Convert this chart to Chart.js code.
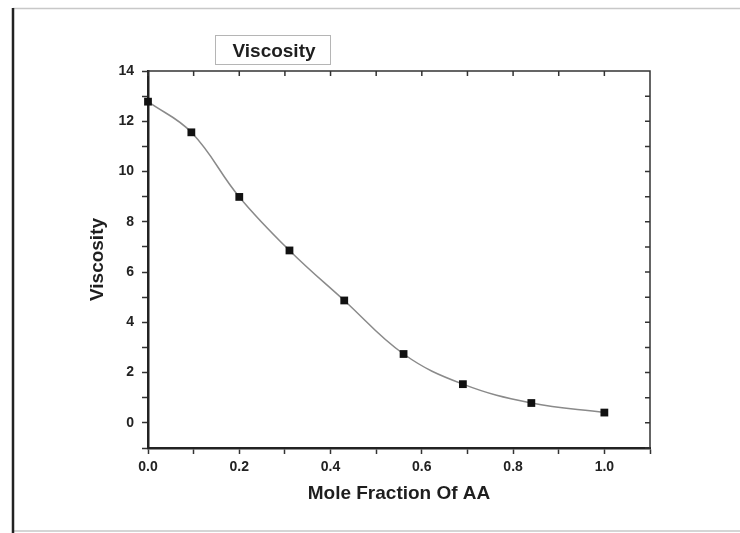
<!DOCTYPE html>
<html>
<head>
<meta charset="utf-8">
<script src="https://cdn.jsdelivr.net/npm/chart.js@4"></script>
<style>
  body { margin: 0; background: #fff; }
  canvas { display: block; }
</style>
</head>
<body>
<canvas id="viscosityChart" width="740" height="533"></canvas>
<script>
// measured viscosity against mole fraction of AA
var moleFraction = [0, 0.095, 0.2, 0.31, 0.43, 0.56, 0.69, 0.84, 1.0];
var viscosity = [12.78, 11.56, 8.99, 6.86, 4.87, 2.74, 1.54, 0.79, 0.41];

// tick positions (major + minor), labels only on the major ones
var xTickValues = [0, 0.1, 0.2, 0.3, 0.4, 0.5, 0.6, 0.7, 0.8, 0.9, 1.0, 1.1];
var yTickValues = [-1, 0, 1, 2, 3, 4, 5, 6, 7, 8, 9, 10, 11, 12, 13, 14];

var points = moleFraction.map(function (x, i) { return { x: x, y: viscosity[i] }; });

// page frame, boxed title and the mirrored top/right axes with inward ticks
var framePlugin = {
    id: 'frame',
    beforeDraw: function (chart) {
        var c = chart.ctx;
        c.save();
        c.fillStyle = '#fff';
        c.fillRect(0, 0, chart.width, chart.height);
        c.strokeStyle = '#c8c8c8';
        c.lineWidth = 1.5;
        c.beginPath();
        c.moveTo(13, 8.5); c.lineTo(740, 8.5);
        c.moveTo(13, 531); c.lineTo(740, 531);
        c.stroke();
        c.strokeStyle = '#222';
        c.lineWidth = 2.5;
        c.beginPath();
        c.moveTo(13, 8); c.lineTo(13, 533);
        c.stroke();
        c.restore();
    },
    afterDraw: function (chart) {
        var c = chart.ctx;
        var a = chart.chartArea;
        var xs = chart.scales.x, ys = chart.scales.y;
        c.save();
        c.strokeStyle = '#333';
        c.lineWidth = 1.5;
        c.beginPath();
        c.moveTo(a.left, a.top); c.lineTo(a.right, a.top); c.lineTo(a.right, a.bottom);
        xTickValues.forEach(function (v) {
            var px = xs.getPixelForValue(v);
            c.moveTo(px, a.top); c.lineTo(px, a.top + 5);
        });
        yTickValues.forEach(function (v) {
            var py = ys.getPixelForValue(v);
            c.moveTo(a.right, py); c.lineTo(a.right - 5, py);
        });
        c.stroke();

        // boxed title
        c.strokeStyle = '#b5b5b5';
        c.lineWidth = 1;
        c.strokeRect(215.5, 35.5, 115, 29);
        c.fillStyle = '#1e1e1e';
        c.font = 'bold 19px "Liberation Sans", Arial, sans-serif';
        c.textAlign = 'center';
        c.textBaseline = 'middle';
        c.fillText('Viscosity', 274, 52);
        c.restore();
    }
};

var ctx = document.getElementById('viscosityChart').getContext('2d');
var chart = new Chart(ctx, {
    type: 'line',
    data: {
        datasets: [{
            label: 'Viscosity',
            data: points,
            borderColor: '#8a8a8a',
            borderWidth: 1.5,
            tension: 0.4,
            pointStyle: 'rect',
            pointRadius: 5.5,
            pointBackgroundColor: '#111',
            pointBorderColor: '#111',
            pointBorderWidth: 0,
            clip: false
        }]
    },
    options: {
        responsive: false,
        animation: false,
        layout: { padding: { left: 80, top: 71, right: 90, bottom: 25 } },
        plugins: {
            legend: { display: false },
            tooltip: { enabled: false }
        },
        scales: {
            x: {
                type: 'linear',
                min: 0,
                max: 1.1,
                afterBuildTicks: function (scale) {
                    scale.ticks = xTickValues.map(function (v) { return { value: v }; });
                },
                afterFit: function (scale) { scale.height = 60; },
                border: { color: '#222', width: 2.5 },
                grid: { drawOnChartArea: false, tickLength: 6, tickColor: '#333', tickWidth: 1.5 },
                ticks: {
                    autoSkip: false,
                    maxRotation: 0,
                    padding: 5,
                    color: '#222',
                    font: { family: '"Liberation Sans", Arial, sans-serif', size: 14, weight: 'bold' },
                    callback: function (value) {
                        var tenth = Math.round(value * 10);
                        return (tenth % 2 === 0 && tenth <= 10) ? value.toFixed(1) : '';
                    }
                },
                title: {
                    display: true,
                    text: 'Mole Fraction Of AA',
                    color: '#1e1e1e',
                    padding: { top: 0, bottom: 3 },
                    font: { family: '"Liberation Sans", Arial, sans-serif', size: 19, weight: 'bold' }
                }
            },
            y: {
                min: -1,
                max: 14,
                afterBuildTicks: function (scale) {
                    scale.ticks = yTickValues.map(function (v) { return { value: v }; });
                },
                afterFit: function (scale) { scale.width = 68; },
                border: { color: '#222', width: 2.5 },
                grid: { drawOnChartArea: false, tickLength: 6, tickColor: '#333', tickWidth: 1.5 },
                ticks: {
                    autoSkip: false,
                    padding: 8,
                    color: '#222',
                    font: { family: '"Liberation Sans", Arial, sans-serif', size: 14, weight: 'bold' },
                    callback: function (value) {
                        return (value >= 0 && value % 2 === 0) ? String(value) : '';
                    }
                },
                title: {
                    display: true,
                    text: 'Viscosity',
                    color: '#1e1e1e',
                    padding: { top: 6, bottom: 0 },
                    font: { family: '"Liberation Sans", Arial, sans-serif', size: 19, weight: 'bold' }
                }
            }
        }
    },
    plugins: [framePlugin]
});
</script>
</body>
</html>
